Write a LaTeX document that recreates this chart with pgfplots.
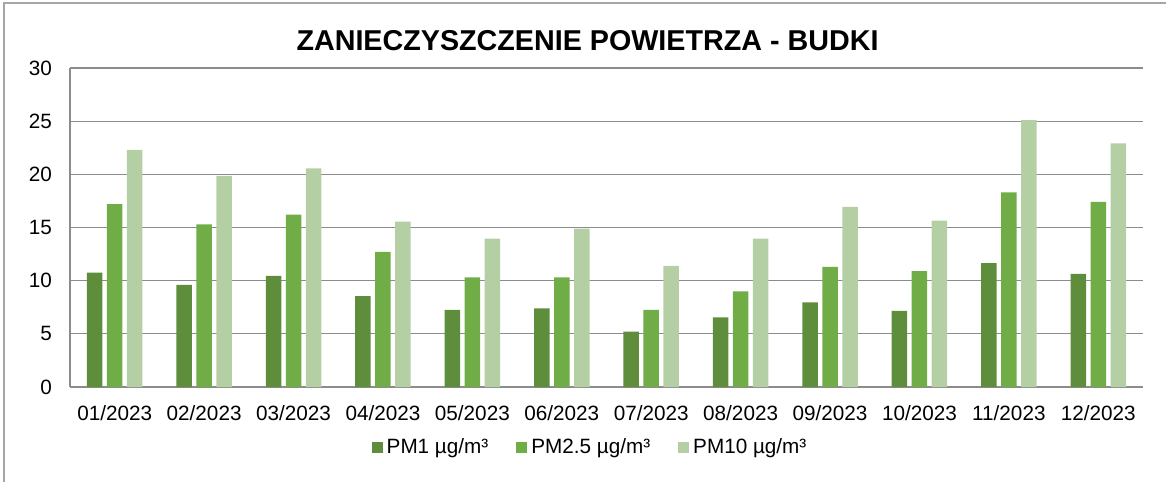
\documentclass[border=0pt]{standalone}
\usepackage{fontspec}
\setmainfont{Liberation Sans}
\usepackage{pgfplots}
\pgfplotsset{compat=1.18}

\definecolor{pmone}{HTML}{5E8E3C}
\definecolor{pmtwo}{HTML}{70AD47}
\definecolor{pmten}{HTML}{B5CFA5}
\definecolor{gridgray}{HTML}{8C8C8C}
\definecolor{framegray}{HTML}{A6A6A6}

\newcommand{\lblfont}{\fontsize{10.35}{12}\selectfont}

\begin{document}
\begin{tikzpicture}
\begin{axis}[
    name=ax,
    scale only axis,
    width=536.5pt, height=159.5pt,
    ybar=2.25pt, bar width=7.75pt,
    xmin=-0.5, xmax=11.5,
    ymin=0, ymax=30,
    xtick={0,...,11},
    xticklabels={01/2023,02/2023,03/2023,04/2023,05/2023,06/2023,07/2023,08/2023,09/2023,10/2023,11/2023,12/2023},
    ytick={0,5,...,30},
    major tick length=0pt,
    axis x line*=bottom, axis y line*=left,
    axis line style={gridgray, line width=0.6pt, -},
    ymajorgrids,
    grid style={gridgray, line width=0.6pt},
    tick label style={font=\lblfont},
    /pgf/number format/assume math mode=true,
    xticklabel style={yshift=-5.5pt},
    yticklabel style={xshift=-5.5pt},
    title={ZANIECZYSZCZENIE POWIETRZA - BUDKI},
    title style={at={(0.4823,1)}, anchor=base, yshift=2.6pt,
        font=\fontsize{14.35}{16}\selectfont\bfseries},
    legend style={at={(0.4856,0)}, anchor=center, yshift=-30pt,
        legend columns=3, draw=none, font=\lblfont,
        /tikz/every even column/.append style={column sep=12pt}},
    legend image code/.code={\fill[#1] (0pt,-2.75pt) rectangle (5.5pt,2.75pt);},
]
% PM1
\addplot[fill=pmone, draw=none] coordinates {
    (0,10.75) (1,9.6) (2,10.45) (3,8.55) (4,7.25) (5,7.4)
    (6,5.2) (7,6.55) (8,7.95) (9,7.15) (10,11.65) (11,10.65)};
% PM2.5
\addplot[fill=pmtwo, draw=none] coordinates {
    (0,17.2) (1,15.3) (2,16.2) (3,12.7) (4,10.3) (5,10.3)
    (6,7.25) (7,9.0) (8,11.3) (9,10.9) (10,18.3) (11,17.4)};
% PM10
\addplot[fill=pmten, draw=none] coordinates {
    (0,22.3) (1,19.85) (2,20.55) (3,15.55) (4,13.95) (5,14.9)
    (6,11.4) (7,13.95) (8,16.95) (9,15.65) (10,25.1) (11,22.9)};
\legend{PM1 µg/m³, PM2.5 µg/m³, PM10 µg/m³}
\end{axis}
\pgfresetboundingbox
\path[use as bounding box] ([xshift=-35pt,yshift=-47.5pt]ax.south west)
    rectangle ([xshift=11.5pt,yshift=34pt]ax.north east);
\draw[framegray, line width=0.6pt]
    ([xshift=-33pt,yshift=-47.5pt]ax.south west)
    -- ([xshift=-33pt,yshift=32.5pt]ax.north west)
    -- ([xshift=11.5pt,yshift=32.5pt]ax.north east);
\end{tikzpicture}
\end{document}
